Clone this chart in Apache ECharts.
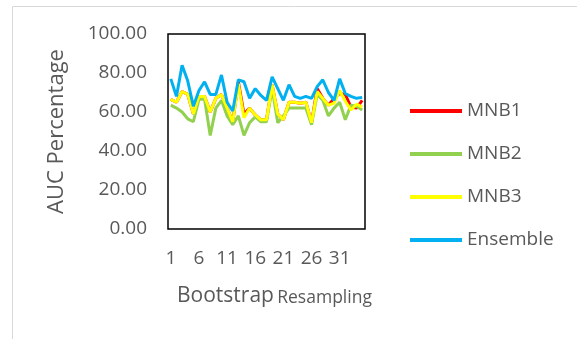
<!DOCTYPE html>
<html>
<head>
<meta charset="utf-8">
<script src="https://cdn.jsdelivr.net/npm/echarts@6/dist/echarts.min.js"></script>
<style>
  html, body { margin: 0; padding: 0; background: #fff; }
  #chart { width: 577px; height: 339px; }
</style>
</head>
<body>
<div id="chart"></div>
<script>
// Bootstrap resampling runs
const runs = ['1','2','3','4','5','6','7','8','9','10','11','12','13','14','15','16','17','18',
  '19','20','21','22','23','24','25','26','27','28','29','30','31','32','33','34','35'];

// AUC (%) per run
const mnb1 = [66.5,65,70.5,69,59,68,68,60,67,69,62,55,75.5,59,62,58.5,56,56,74,59,56,65,65,64.5,65,54.5,72,67,63.5,67,69.5,69,62.5,62,66];
const mnb2 = [63.5,62,60,56.5,55,66.5,66.5,48,62,66,58,53.5,58,48,54.5,57.5,55,55,72,54.5,58,62,62,62,62,53.5,69,66,58,62,65,56,63.5,63,61];
const mnb3 = [66.5,65,70.5,69,59,68,68,60,67,69,62,55,74.5,57,62,58.5,56,56,74,59,56,65,65,64.5,65,54.5,70.5,67,63.5,64.5,71,65.5,61,64,62.5];
const ensemble = [77,68,84,76,63,71,75.5,69,69,79,65,60.5,76.5,75.5,67,72,68.5,66,78,72,66,74,68,67,68,67,73,76.5,70,66,77,69.5,68,67,67.5];

const yMin = 0, yMax = 100, yStep = 20;

const seriesDefs = [
  { name: 'MNB1', data: mnb1, color: '#FF0000' },
  { name: 'MNB2', data: mnb2, color: '#92D050' },
  { name: 'MNB3', data: mnb3, color: '#FFFF00' },
  { name: 'Ensemble', data: ensemble, color: '#00B0F0' }
];

const font = '"Open Sans", "Noto Sans", sans-serif';
const grey = '#595959';

const chart = echarts.init(document.getElementById('chart'), null, { renderer: 'canvas' });
chart.setOption({
  animation: false,
  backgroundColor: '#fff',
  grid: {
    left: 168, top: 34, width: 197, height: 195,
    show: true, borderColor: '#000', borderWidth: 1.5, backgroundColor: 'transparent'
  },
  xAxis: {
    type: 'category',
    data: runs,
    boundaryGap: true,
    axisLine: { show: false },
    axisTick: { show: false },
    axisLabel: { interval: 4, margin: 20, color: grey, fontFamily: font, fontSize: 19 },
    splitLine: { show: false }
  },
  yAxis: {
    type: 'value',
    min: yMin, max: yMax, interval: yStep,
    axisLine: { show: false },
    axisTick: { show: false },
    splitLine: { show: false },
    axisLabel: {
      margin: 21, color: grey, fontFamily: font, fontSize: 19,
      formatter: v => v.toFixed(2)
    },
    name: 'AUC Percentage',
    nameLocation: 'middle',
    nameRotate: 90,
    nameGap: 100,
    nameTextStyle: { color: grey, fontFamily: font, fontSize: 22 }
  },
  legend: {
    orient: 'vertical',
    left: 410, top: 100,
    padding: 0,
    icon: 'rect',
    itemWidth: 52, itemHeight: 4,
    itemGap: 21,
    textStyle: { color: grey, fontFamily: font, fontSize: 19, lineHeight: 22 },
    data: seriesDefs.map(s => s.name)
  },
  graphic: [
    {
      type: 'rect', silent: true,
      shape: { x: 12.5, y: 6.5, width: 700, height: 500 },
      style: { fill: 'none', stroke: '#d9d9d9', lineWidth: 1 }
    },
    {
      type: 'text', left: 177, top: 286,
      style: {
        text: '{a|Bootstrap} {b|Resampling}',
        rich: {
          a: { fontFamily: font, fontSize: 21, lineHeight: 26, verticalAlign: 'bottom', fill: grey },
          b: { fontFamily: font, fontSize: 17.5, lineHeight: 21, verticalAlign: 'bottom', fill: grey }
        }
      }
    }
  ],
  series: seriesDefs.map(s => ({
    name: s.name,
    type: 'line',
    data: s.data,
    symbol: 'none',
    color: s.color,
    lineStyle: { width: 3, color: s.color },
    itemStyle: { color: s.color }
  }))
});
</script>
</body>
</html>
